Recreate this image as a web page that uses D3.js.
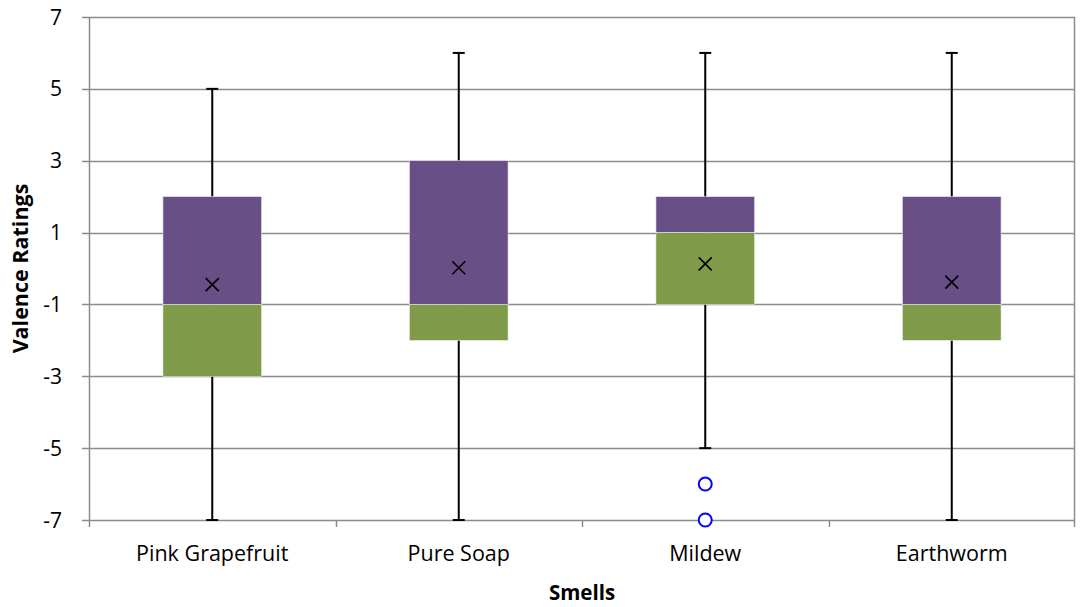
<!DOCTYPE html>
<html><head><meta charset="utf-8">
<script src="https://cdn.jsdelivr.net/npm/d3@7/dist/d3.min.js"></script>
<style>body{margin:0;background:#fff}svg{display:block}text{font-family:"Open Sans",sans-serif}</style>
</head><body><svg id="c" width="1080" height="607"></svg>
<script>
const categories = ["Pink Grapefruit","Pure Soap","Mildew","Earthworm"];
const whiskerLow = [-7,-7,-5,-7];
const q1 = [-3,-2,-1,-2];
const median = [-1,-1,1,-1];
const q3 = [2,3,2,2];
const whiskerHigh = [5,6,6,6];
const means = [-0.45,0.02,0.13,-0.38];
const outliers = [[],[],[-6,-7],[]];
const yTicks = [-7,-5,-3,-1,1,3,5,7];

const svg = d3.select("#c");
const L=89,R=1075,T=17,B=520;
const x = d3.scaleBand().domain(categories).range([L,R]).paddingInner(0).paddingOuter(0);
const y = d3.scaleLinear().domain([-7,7]).range([B,T]);
const grid="#8c8c8c";

svg.append("g").selectAll("line").data(yTicks).join("line")
  .attr("x1",L-7).attr("x2",R).attr("y1",d=>Math.round(y(d))+0.5).attr("y2",d=>Math.round(y(d))+0.5)
  .attr("stroke",grid).attr("stroke-width",1.5);
svg.append("line").attr("x1",R-0.5).attr("x2",R-0.5).attr("y1",T).attr("y2",B+7).attr("stroke",grid).attr("stroke-width",1.5);
svg.append("line").attr("x1",L+0.5).attr("x2",L+0.5).attr("y1",T).attr("y2",B+7).attr("stroke",grid).attr("stroke-width",1.5);
const bounds = categories.map(c=>x(c)).concat([R]);
svg.append("g").selectAll("line").data(bounds.slice(1,4)).join("line")
  .attr("x1",d=>Math.round(d)+0.5).attr("x2",d=>Math.round(d)+0.5).attr("y1",B).attr("y2",B+7)
  .attr("stroke",grid).attr("stroke-width",1.5);

svg.append("g").selectAll("text").data(yTicks).join("text")
  .attr("x",L-27).attr("y",d=>y(d)).attr("dy","0.36em").attr("text-anchor","end")
  .attr("font-size",21).attr("fill","#000").text(d=>d);
svg.append("g").selectAll("text").data(categories).join("text")
  .attr("x",d=>x(d)+x.bandwidth()/2).attr("y",561).attr("text-anchor","middle")
  .attr("font-size",21.5).attr("fill","#000").text(d=>d);

const bw = x.bandwidth()*0.4;
const g = svg.append("g");
categories.forEach((c,i)=>{
  const cx = x(c)+x.bandwidth()/2;
  g.append("line").attr("x1",cx).attr("x2",cx).attr("y1",y(whiskerLow[i])).attr("y2",y(whiskerHigh[i])).attr("stroke","#000").attr("stroke-width",2);
  [whiskerLow[i],whiskerHigh[i]].forEach(v=>{
    g.append("line").attr("x1",cx-6).attr("x2",cx+6).attr("y1",y(v)).attr("y2",y(v)).attr("stroke","#000").attr("stroke-width",2);
  });
  g.append("rect").attr("x",cx-bw/2).attr("width",bw).attr("y",y(q3[i])).attr("height",y(median[i])-y(q3[i]))
    .attr("fill","#684f86").attr("stroke","#e8e4ee").attr("stroke-width",0.6);
  g.append("rect").attr("x",cx-bw/2).attr("width",bw).attr("y",y(median[i])).attr("height",y(q1[i])-y(median[i]))
    .attr("fill","#7f9a48").attr("stroke","#e8ecdf").attr("stroke-width",0.6);
  const my=y(means[i]), s=6.5;
  g.append("path").attr("d",`M${cx-s},${my-s}L${cx+s},${my+s}M${cx-s},${my+s}L${cx+s},${my-s}`)
    .attr("stroke","#000").attr("stroke-width",1.6).attr("fill","none");
  outliers[i].forEach(v=>{
    g.append("circle").attr("cx",cx).attr("cy",y(v)).attr("r",6.5).attr("fill","#fff").attr("stroke","#0000ff").attr("stroke-width",2);
  });
});

svg.append("text").attr("x",(L+R)/2).attr("y",600).attr("text-anchor","middle")
  .attr("font-size",20.5).attr("font-weight","bold").text("Smells");
svg.append("text").attr("transform",`translate(28,${(T+B)/2}) rotate(-90)`).attr("text-anchor","middle")
  .attr("font-size",21.5).attr("font-weight","bold").text("Valence Ratings");
</script></body></html>
